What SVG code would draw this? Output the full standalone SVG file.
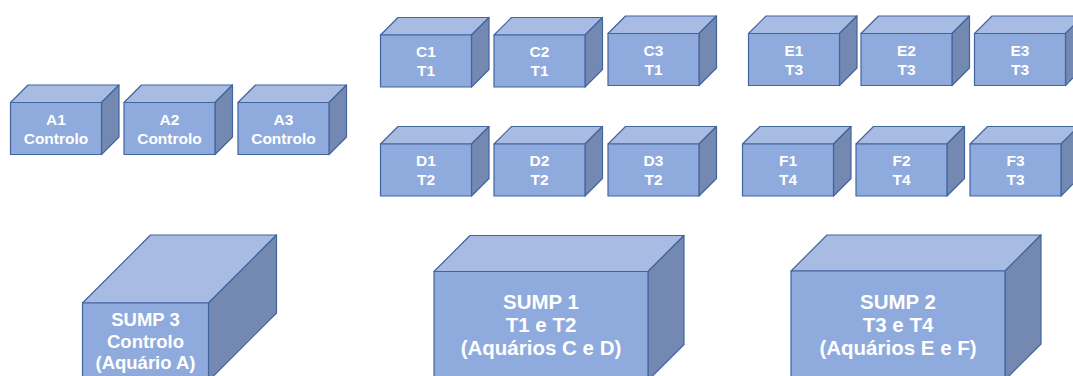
<svg xmlns="http://www.w3.org/2000/svg" xmlns:xlink="http://www.w3.org/1999/xlink" width="1073" height="376" viewBox="0 0 1073 376">
  <style>
    .front { fill: #8FAADC; }
    .top { fill: #A7BBE3; }
    .side { fill: #7389B2; }
    .cube polygon, .cube rect { stroke: #42649F; stroke-width: 1.2; stroke-linejoin: round; }
    .lbl { font-family: "Liberation Sans", Arial, sans-serif; font-weight: bold; fill: #FFFFFF; text-anchor: middle; }
    .s { font-size: 15.5px; }
    .m { font-size: 18.5px; }
    .l { font-size: 20.5px; }
  </style>
  <defs>
    <!-- small tank: origin at the front face's top-left corner -->
    <g id="cube-s" class="cube">
      <polygon class="top" points="0,0 17.5,-17.5 108.5,-17.5 91,0"/>
      <polygon class="side" points="91,0 108.5,-17.5 108.5,34.5 91,52"/>
      <rect class="front" x="0" y="0" width="91" height="52"/>
    </g>
  </defs>

  <rect width="1073" height="376" fill="#FFFFFF"/>

  <!-- aquarium tanks -->
  <g id="A1"><use xlink:href="#cube-s" x="10.5" y="102.5"/><text class="lbl s" x="56" y="124.5">A1</text><text class="lbl s" x="56" y="143.5">Controlo</text></g>
  <g id="A2"><use xlink:href="#cube-s" x="124" y="102.5"/><text class="lbl s" x="169.5" y="124.5">A2</text><text class="lbl s" x="169.5" y="143.5">Controlo</text></g>
  <g id="A3"><use xlink:href="#cube-s" x="238" y="102.5"/><text class="lbl s" x="283.5" y="124.5">A3</text><text class="lbl s" x="283.5" y="143.5">Controlo</text></g>

  <g id="C1"><use xlink:href="#cube-s" x="380.5" y="35"/><text class="lbl s" x="426" y="57">C1</text><text class="lbl s" x="426" y="76">T1</text></g>
  <g id="C2"><use xlink:href="#cube-s" x="494" y="35"/><text class="lbl s" x="539.5" y="57">C2</text><text class="lbl s" x="539.5" y="76">T1</text></g>
  <g id="C3"><use xlink:href="#cube-s" x="608" y="33.5"/><text class="lbl s" x="653.5" y="55.5">C3</text><text class="lbl s" x="653.5" y="74.5">T1</text></g>

  <g id="D1"><use xlink:href="#cube-s" x="380.5" y="144"/><text class="lbl s" x="426" y="166">D1</text><text class="lbl s" x="426" y="185">T2</text></g>
  <g id="D2"><use xlink:href="#cube-s" x="494" y="144"/><text class="lbl s" x="539.5" y="166">D2</text><text class="lbl s" x="539.5" y="185">T2</text></g>
  <g id="D3"><use xlink:href="#cube-s" x="608" y="144"/><text class="lbl s" x="653.5" y="166">D3</text><text class="lbl s" x="653.5" y="185">T2</text></g>

  <g id="E1"><use xlink:href="#cube-s" x="748.5" y="33.5"/><text class="lbl s" x="794" y="55.5">E1</text><text class="lbl s" x="794" y="74.5">T3</text></g>
  <g id="E2"><use xlink:href="#cube-s" x="861" y="33.5"/><text class="lbl s" x="906.5" y="55.5">E2</text><text class="lbl s" x="906.5" y="74.5">T3</text></g>
  <g id="E3"><use xlink:href="#cube-s" x="974.5" y="33.5"/><text class="lbl s" x="1020" y="55.5">E3</text><text class="lbl s" x="1020" y="74.5">T3</text></g>

  <g id="F1"><use xlink:href="#cube-s" x="742.5" y="144"/><text class="lbl s" x="788" y="166">F1</text><text class="lbl s" x="788" y="185">T4</text></g>
  <g id="F2"><use xlink:href="#cube-s" x="856" y="144"/><text class="lbl s" x="901.5" y="166">F2</text><text class="lbl s" x="901.5" y="185">T4</text></g>
  <g id="F3"><use xlink:href="#cube-s" x="970" y="144"/><text class="lbl s" x="1015.5" y="166">F3</text><text class="lbl s" x="1015.5" y="185">T3</text></g>

  <!-- sumps -->
  <g id="SUMP3">
    <g class="cube">
      <polygon class="top" points="82.5,303 150.5,235 276.5,235 208.5,303"/>
      <polygon class="side" points="208.5,303 276.5,235 276.5,313 208.5,381"/>
      <rect class="front" x="82.5" y="303" width="126" height="78"/>
    </g>
    <text class="lbl m" x="145.5" y="325.7">SUMP 3</text>
    <text class="lbl m" x="145.5" y="347.7">Controlo</text>
    <text class="lbl m" x="145.5" y="369">(Aquário A)</text>
  </g>

  <g id="SUMP1">
    <g class="cube">
      <polygon class="top" points="434,271.5 470,235.5 684,235.5 648,271.5"/>
      <polygon class="side" points="648,271.5 684,235.5 684,344.5 648,380.5"/>
      <rect class="front" x="434" y="271.5" width="214" height="109"/>
    </g>
    <text class="lbl l" x="541" y="309">SUMP 1</text>
    <text class="lbl l" x="541" y="332">T1 e T2</text>
    <text class="lbl l" x="541" y="355">(Aquários C e D)</text>
  </g>

  <g id="SUMP2">
    <g class="cube">
      <polygon class="top" points="791,271 827,235 1041,235 1005,271"/>
      <polygon class="side" points="1005,271 1041,235 1041,344 1005,380"/>
      <rect class="front" x="791" y="271" width="214" height="109"/>
    </g>
    <text class="lbl l" x="898" y="309">SUMP 2</text>
    <text class="lbl l" x="898" y="332">T3 e T4</text>
    <text class="lbl l" x="898" y="355">(Aquários E e F)</text>
  </g>

  <g id="connectors"/>
</svg>
